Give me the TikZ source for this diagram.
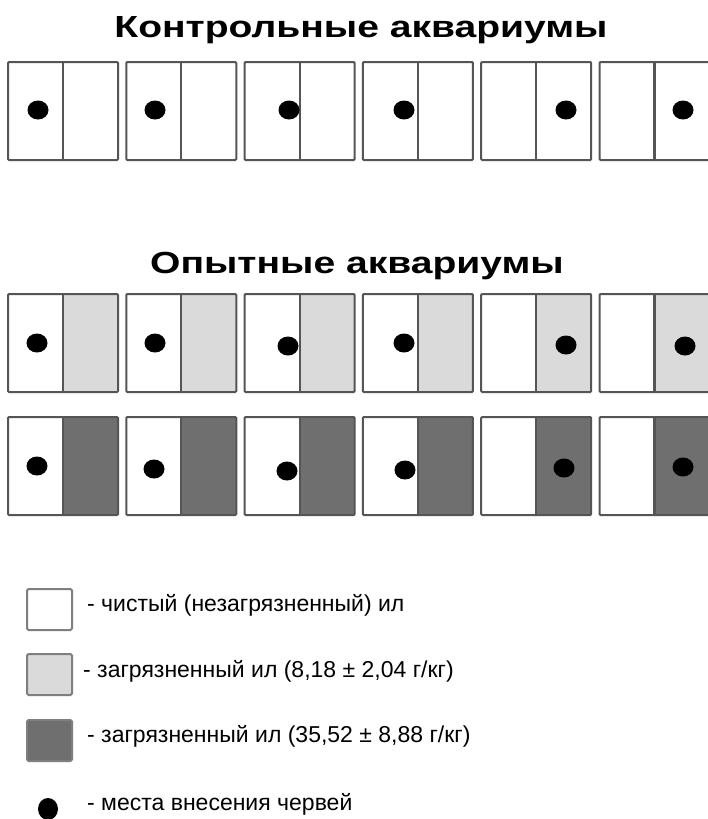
\documentclass[tikz,border=0pt]{standalone}
\usepackage{fontspec}
\setmainfont{Liberation Sans}
\definecolor{tankgray}{HTML}{555555}
\definecolor{keygray}{HTML}{7F7F7F}
\definecolor{lightsilt}{HTML}{DADADA}
\definecolor{darksilt}{HTML}{6F6F6F}
\tikzset{
  tank/.style={draw=tankgray, line width=2pt, rounded corners=1pt},
  divider/.style={draw=tankgray, line width=2.2pt},
  worm/.style={fill=black},
  keybox/.style={draw=keygray, line width=2pt, rounded corners=1.5pt, minimum width=45pt, minimum height=41pt, inner sep=0pt},
  keytext/.style={anchor=mid west, inner sep=0pt, font=\fontsize{23}{27}\selectfont},
  heading/.style={anchor=base, inner sep=0pt, xscale=1.28, font=\bfseries\fontsize{30.5}{36}\selectfont}
}
% one aquarium: left x, top y, silt colour, worm x, worm y
\newcommand{\aquarium}[5]{%
  \fill[#3] (#1+55,#2) rectangle (#1+110,#2+98);
  \draw[tank] (#1,#2) rectangle (#1+110,#2+98);
  \draw[divider] (#1+55,#2) -- (#1+55,#2+98);
  \fill[worm] (#4,#5) ellipse [x radius=10.5, y radius=9.5];
}

\begin{document}
\begin{tikzpicture}[x=1pt, y=-1pt]
  \useasboundingbox[fill=white] (0,0) rectangle (707,819);

  \node[heading] (ctrl) at (361,37) {Контрольные аквариумы};
  \foreach \tx/\wx in {8/38, 126.3/155, 244.6/289, 362.9/404, 481.2/566, 599.5/683}
    {\aquarium{\tx}{62}{white}{\wx}{110}}

  \node[heading] (test) at (357,273) {Опытные аквариумы};
  \foreach \tx/\wx/\wy in {8/37/343, 126.3/155/343, 244.6/288/346, 362.9/404/343, 481.2/566/345, 599.5/685/346}
    {\aquarium{\tx}{294}{lightsilt}{\wx}{\wy}}
  \foreach \tx/\wx/\wy in {8/37/466, 126.3/154/469, 244.6/287/471, 362.9/405/470, 481.2/564/468, 599.5/683/467}
    {\aquarium{\tx}{417}{darksilt}{\wx}{\wy}}

  % legend
  \node[keybox, fill=white] (clean) at (49.5,609.5) {};
  \node[keytext] (cleantxt) at (87,609) {- чистый (незагрязненный) ил};
  \node[keybox, fill=lightsilt] (low) at (49.5,674.5) {};
  \node[keytext] (lowtxt) at (83,674.5) {- загрязненный ил (8,18 ± 2,04 г/кг)};
  \node[keybox, fill=darksilt] (high) at (49.5,740.5) {};
  \node[keytext] (hightxt) at (87,740) {- загрязненный ил (35,52 ± 8,88 г/кг)};
  \fill[worm] (48,809) ellipse [x radius=10, y radius=11];
  \node[keytext] (wormtxt) at (87,807.5) {- места внесения червей};
\end{tikzpicture}
\end{document}
